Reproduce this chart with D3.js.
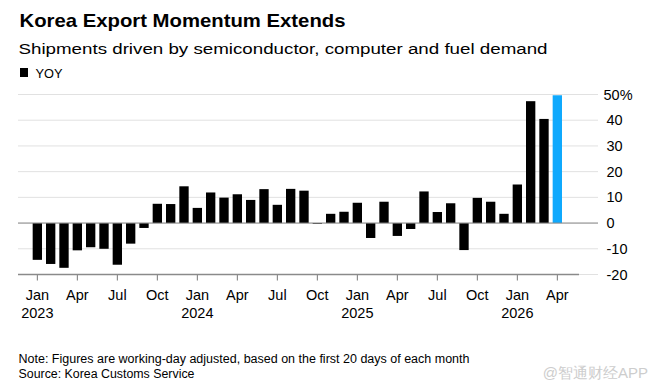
<!DOCTYPE html>
<html>
<head>
<meta charset="utf-8">
<script src="https://cdn.jsdelivr.net/npm/d3@7"></script>
<style>
  body { margin: 0; background: #fff; }
  text { font-family: "Liberation Sans", Arial, sans-serif; }
</style>
</head>
<body>
<script>
// monthly YOY export growth, Jan 2023 .. Apr 2026
var months = [];
var startYear = 2023;
var monthNames = ["Jan","Feb","Mar","Apr","May","Jun","Jul","Aug","Sep","Oct","Nov","Dec"];
for (var m = 0; m < 40; m++) {
    months.push(monthNames[m % 12] + " " + (startYear + Math.floor(m / 12)));
}
var yoy = [-14.3, -15.9, -17.4, -10.6, -9.4, -10.0, -16.2, -8.0, -1.9, 7.5, 7.4, 14.3,
           5.9, 11.9, 9.9, 11.2, 9.0, 13.2, 7.1, 13.3, 12.6, -0.3, 3.6, 4.4,
           7.9, -5.8, 8.3, -5.0, -2.3, 12.3, 4.3, 7.7, -10.5, 9.8, 8.3, 3.6,
           15.0, 47.4, 40.5, 49.7];
var yTicks = [-20, -10, 0, 10, 20, 30, 40, 50];

var width = 657, height = 389;
var svg = d3.select("body").append("svg")
    .attr("width", width)
    .attr("height", height);

// titles
svg.append("text").text("Korea Export Momentum Extends")
    .attr("x", 19.5).attr("y", 27)
    .attr("textLength", 326).attr("lengthAdjust", "spacingAndGlyphs")
    .attr("font-size", 19).attr("font-weight", "bold").attr("fill", "#000");
svg.append("text").text("Shipments driven by semiconductor, computer and fuel demand")
    .attr("x", 18.5).attr("y", 53.5)
    .attr("textLength", 529).attr("lengthAdjust", "spacingAndGlyphs")
    .attr("font-size", 15.5).attr("fill", "#000");
svg.append("rect").attr("x", 20).attr("y", 68).attr("width", 8).attr("height", 9).attr("fill", "#000");
svg.append("text").text("YOY")
    .attr("x", 35.5).attr("y", 77.5)
    .attr("textLength", 27).attr("lengthAdjust", "spacingAndGlyphs")
    .attr("font-size", 13).attr("fill", "#000");

var x = d3.scaleBand()
    .domain(months)
    .range([28.67, 566])
    .padding(0.3);

var y = d3.scaleLinear()
    .domain([-20, 50])
    .range([274.5, 94.5]);

// grid
svg.append("g").selectAll("line")
    .data(yTicks)
    .enter().append("line")
    .attr("x1", 18).attr("x2", 598)
    .attr("y1", function(d) { return y(d); })
    .attr("y2", function(d) { return y(d); })
    .attr("stroke", "#e1e1e1")
    .attr("stroke-width", 1);

// y labels
svg.append("g").selectAll("text")
    .data(yTicks)
    .enter().append("text")
    .text(function(d, i) { return d == 50 ? d + "%" : d; })
    .attr("x", function(d) { return d == 50 ? 603.5 : 606.5; })
    .attr("y", function(d) { return y(d); })
    .attr("dy", "0.35em")
    .attr("font-size", 14.5)
    .attr("fill", "#000");

// bars
svg.append("g").selectAll("rect")
    .data(yoy)
    .enter().append("rect")
    .attr("x", function(d, i) { return x(months[i]); })
    .attr("width", x.bandwidth())
    .attr("y", function(d) { return y(Math.max(0, d)); })
    .attr("height", function(d) { return Math.abs(y(d) - y(0)); })
    .attr("fill", function(d, i) { return i == yoy.length - 1 ? "#0fa9fd" : "#000"; });

// zero line
svg.append("line")
    .attr("x1", 18).attr("x2", 598)
    .attr("y1", y(0)).attr("y2", y(0))
    .attr("stroke", "#8a8a8a").attr("stroke-width", 1);

// x axis
var xAxis = d3.axisBottom(x)
    .tickValues(months.filter(function(d, i) { return i % 3 == 0; }))
    .tickSize(6)
    .tickSizeOuter(0)
    .tickFormat(function(d) { return d.split(" ")[0]; });

var gx = svg.append("g")
    .attr("transform", "translate(0," + y(-20) + ")")
    .call(xAxis);
gx.select(".domain").remove();
gx.append("line").attr("x1", 18).attr("x2", 579).attr("y1", 0).attr("y2", 0)
    .attr("stroke", "#8a8a8a").attr("stroke-width", 1.5);
gx.selectAll(".tick line").attr("stroke", "#777");
gx.selectAll(".tick text")
    .attr("font-size", 14.5)
    .attr("font-family", "Liberation Sans, Arial, sans-serif")
    .attr("fill", "#000")
    .attr("y", 0).attr("dy", 0)
    .attr("transform", "translate(0,25.5)");
gx.selectAll(".tick").filter(function(d) { return d.indexOf("Jan") == 0; })
    .append("text")
    .text(function(d) { return d.split(" ")[1]; })
    .attr("text-anchor", "middle")
    .attr("y", 43.2)
    .attr("font-size", 14.5)
    .attr("fill", "#000");

// footnotes
svg.append("text").text("Note: Figures are working-day adjusted, based on the first 20 days of each month")
    .attr("x", 18.5).attr("y", 363)
    .attr("textLength", 451).attr("lengthAdjust", "spacingAndGlyphs")
    .attr("font-size", 12).attr("fill", "#000");
svg.append("text").text("Source: Korea Customs Service")
    .attr("x", 18.5).attr("y", 377.5)
    .attr("textLength", 176).attr("lengthAdjust", "spacingAndGlyphs")
    .attr("font-size", 12).attr("fill", "#000");
svg.append("text").text("@智通财经APP")
    .attr("x", 648).attr("y", 378)
    .attr("text-anchor", "end")
    .attr("font-family", "Noto Sans CJK SC, sans-serif")
    .attr("font-size", 15)
    .attr("fill", "#cdcdcd");
</script>
</body>
</html>
